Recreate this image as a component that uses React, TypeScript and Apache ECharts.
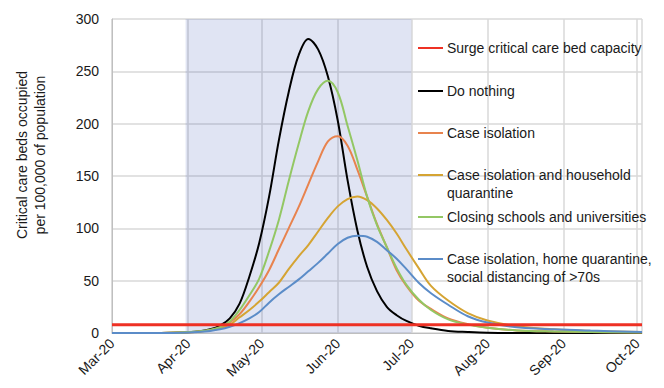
import React, { useEffect, useRef } from "react";
import * as echarts from "echarts";

const dates = [
  "2020-03-01", "2020-03-21", "2020-03-29", "2020-04-05", "2020-04-10", "2020-04-14", "2020-04-18",
  "2020-04-22", "2020-04-26", "2020-04-30", "2020-05-04", "2020-05-08", "2020-05-12",
  "2020-05-16", "2020-05-20", "2020-05-24", "2020-05-28", "2020-06-01", "2020-06-05",
  "2020-06-09", "2020-06-13", "2020-06-17", "2020-06-21", "2020-06-25", "2020-06-29",
  "2020-07-04", "2020-07-09", "2020-07-16", "2020-07-24", "2020-08-01", "2020-08-13",
  "2020-08-28", "2020-09-12", "2020-10-03",
];

const doNothing = [
  0, 0.1, 0.5, 1.5, 3.5, 7, 14, 28, 54, 86, 130, 184, 230, 265, 281, 271, 245, 203, 146,
  98, 63, 40, 25, 17, 11.5, 7, 4.5, 2, 1, 0.3, 0, 0, 0, 0,
];
const caseIsolation = [
  0, 0.1, 0.5, 1.3, 2.8, 5, 10, 18, 30, 44, 60, 80, 100, 120, 142, 164, 183, 188, 179,
  156, 130, 104, 82, 60, 45, 31, 23, 14, 8.5, 5, 2.5, 1.5, 1, 0.5,
];
const householdQuarantine = [
  0, 0.1, 0.5, 1.2, 2.5, 4.5, 8, 15, 22, 30, 39, 48, 61, 73, 84, 97, 110, 121, 128,
  130.5, 127, 119, 108, 95, 80, 62, 45, 31, 19, 12, 6.5, 3.5, 2, 1,
];
const closingSchools = [
  0, 0.1, 0.5, 1.5, 3, 5.5, 11, 22, 36, 52, 78, 108, 145, 180, 212, 233, 241, 230, 198,
  165, 130, 103, 82, 62, 46, 32, 22, 13, 8, 5, 2.5, 1.5, 1, 0.5,
];
const socialDistancing = [
  0, 0.1, 0.3, 1, 2, 3.5, 6, 9.5, 14, 20, 29, 37, 44, 51, 59, 67, 76, 85, 91,
  93, 92, 87, 79, 71, 61, 48, 38, 27, 16, 10, 5.5, 3.5, 2.3, 1,
];
const surgeDates = ["2020-03-01", "2020-10-03"];
const surgeCapacity = [8, 8];

const interventionStart = "2020-03-31";
const interventionEnd = "2020-07-01";

const monthNames = ["Jan", "Feb", "Mar", "Apr", "May", "Jun", "Jul", "Aug", "Sep", "Oct", "Nov", "Dec"];
const yTicks = { min: 0, max: 300, interval: 50 };

const legendItems = [
  { label: "Surge critical care bed capacity", color: "#ee3124" },
  { label: "Do nothing", color: "#000000" },
  { label: "Case isolation", color: "#e8834e" },
  { label: "Case isolation and household\nquarantine", color: "#d5a433" },
  { label: "Closing schools and universities", color: "#93c764" },
  { label: "Case isolation, home quarantine,\nsocial distancing of >70s", color: "#5b8cc8" },
];

const FONT = "'Liberation Sans', Arial, Helvetica, sans-serif";

export default function App() {
  const ref = useRef<HTMLDivElement>(null);
  useEffect(() => {
    if (!ref.current) return;
    const chart = echarts.init(ref.current, null, { renderer: "svg" });
    const pair = (arr: number[]) => dates.map((d, i) => [d, arr[i]]);
    const lineSeries = (name: string, arr: number[], color: string, z: number, extra: any = {}) => ({
      name,
      type: "line",
      data: pair(arr),
      smooth: 0.35,
      showSymbol: false,
      symbol: "none",
      z,
      lineStyle: { color, width: 2 },
      itemStyle: { color },
      ...extra,
    });
    const legendYs = [48, 91, 133, 175, 217, 259];
    const graphic: any[] = [];
    legendItems.forEach((it, i) => {
      const y = legendYs[i];
      graphic.push({
        type: "line",
        shape: { x1: 418, y1: y, x2: 443, y2: y },
        style: { stroke: it.color, lineWidth: 2 },
        z: 100,
      });
      graphic.push({
        type: "text",
        x: 447,
        y: y - 9,
        style: {
          text: it.label,
          font: `14px ${FONT}`,
          fill: "#1a1a1a",
          lineHeight: 18,
          textVerticalAlign: "top",
        },
        z: 100,
      });
    });
    const titleLines = ["Critical care beds occupied", "per 100,000 of population"];
    [22, 40].forEach((x, i) => {
      graphic.push({
        type: "text",
        x,
        y: 155,
        rotation: Math.PI / 2,
        style: {
          text: titleLines[i],
          font: `14px ${FONT}`,
          fill: "#1a1a1a",
          textAlign: "center",
          textVerticalAlign: "middle",
        },
      });
    });

    chart.setOption({
      animation: false,
      backgroundColor: "#ffffff",
      textStyle: { fontFamily: FONT },
      grid: { left: 112, top: 19, right: 22, bottom: 55, containLabel: false },
      xAxis: {
        type: "time",
        min: "2020-03-01",
        max: "2020-10-03",
        splitNumber: 7,
        minInterval: 28 * 86400000,
        maxInterval: 31 * 86400000,
        axisLine: { show: true, lineStyle: { color: "#bfbfbf", width: 1 } },
        axisTick: { show: false },
        splitLine: { show: true, lineStyle: { color: "#d9d9d9", width: 1.5 } },
        axisLabel: {
          rotate: 45,
          fontSize: 14,
          color: "#1a1a1a",
          fontFamily: FONT,
          margin: 8,
          hideOverlap: false,
          showMinLabel: true,
          showMaxLabel: false,
          formatter: (val: number) => {
            const d = new Date(val);
            return `${monthNames[d.getMonth()]}-${String(d.getFullYear()).slice(2)}`;
          },
        },
      },
      yAxis: {
        type: "value",
        min: yTicks.min,
        max: yTicks.max,
        interval: yTicks.interval,
        axisLine: { show: true, lineStyle: { color: "#bfbfbf", width: 1 } },
        axisTick: { show: false },
        splitLine: { show: true, lineStyle: { color: "#d9d9d9", width: 1.5 } },
        axisLabel: { fontSize: 14, color: "#1a1a1a", fontFamily: FONT, margin: 13 },
      },
      series: [
        lineSeries("Do nothing", doNothing, "#000000", 3, {
          markArea: {
            silent: true,
            itemStyle: { color: "rgba(60,90,180,0.16)" },
            data: [[{ xAxis: interventionStart }, { xAxis: interventionEnd }]],
          },
        }),
        lineSeries("Case isolation", caseIsolation, "#e8834e", 4),
        lineSeries("Case isolation and household quarantine", householdQuarantine, "#d5a433", 5),
        lineSeries("Closing schools and universities", closingSchools, "#93c764", 6),
        lineSeries("Case isolation, home quarantine, social distancing of >70s", socialDistancing, "#5b8cc8", 7),
        {
          name: "Surge critical care bed capacity",
          type: "line",
          data: surgeDates.map((d, i) => [d, surgeCapacity[i]]),
          showSymbol: false,
          symbol: "none",
          z: 8,
          lineStyle: { color: "#ee3124", width: 3 },
        },
      ],
      graphic,
    });
    return () => chart.dispose();
  }, []);
  return (
    <div
      ref={ref}
      style={{ position: "fixed", left: 0, top: 0, width: 664, height: 388 }}
    />
  );
}
